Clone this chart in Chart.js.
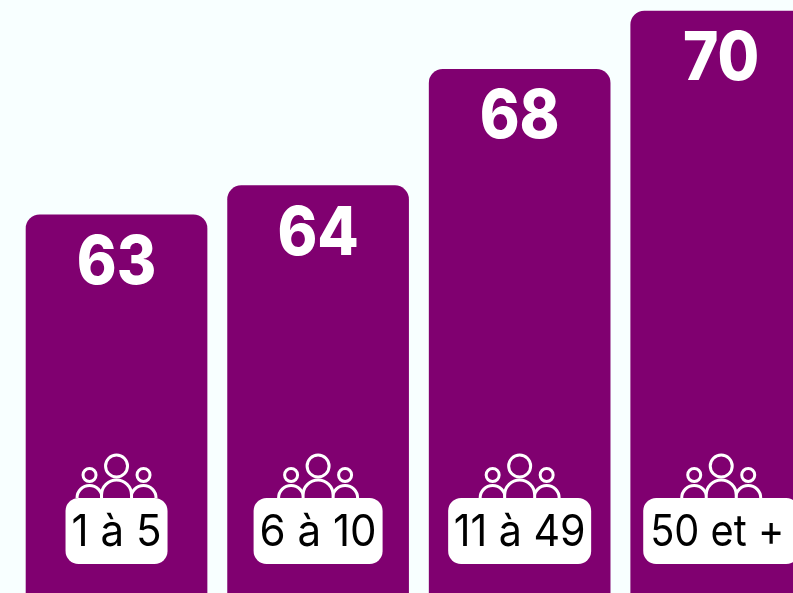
<!DOCTYPE html>
<html lang="fr">
<head>
<meta charset="utf-8">
<title>63 à 70 selon la taille de l'entreprise</title>
<script src="https://cdn.jsdelivr.net/npm/chart.js@4"></script>
<style>
  html, body { margin: 0; height: 100%; overflow: hidden; background: #f8ffff; }
  canvas { display: block; }
</style>
</head>
<body>
<canvas id="chart" width="822" height="593"></canvas>
<script>
// Daten
const categories = ['1 à 5', '6 à 10', '11 à 49', '50 et +'];
const values = [63, 64, 68, 70];

// Etiketten-Masse (Breite der weissen Flaeche, Breite des Textes)
const pillWidths = [102, 129, 143, 156];
const textWidths = [90, 117, 132, 134];

const PURPLE = '#800070';

// Personen-Icon ueber dem Etikett, relativ zur Balkenmitte
function drawPeople(ctx, cx) {
    ctx.save();
    ctx.strokeStyle = '#fff';
    ctx.lineWidth = 3;
    // Seitenfiguren
    [-27, 27].forEach(dx => {
        ctx.beginPath();
        ctx.arc(cx + dx, 475, 6.5, 0, Math.PI * 2);
        ctx.stroke();
        ctx.beginPath();
        ctx.arc(cx + dx, 498, 12.5, Math.PI, 0);
        ctx.stroke();
    });
    // Mittlere Figur, mit Fuellung damit die Seitenfiguren dahinter liegen
    ctx.beginPath();
    ctx.arc(cx, 466, 11, 0, Math.PI * 2);
    ctx.stroke();
    ctx.beginPath();
    ctx.moveTo(cx - 15, 499);
    ctx.lineTo(cx - 15, 495);
    ctx.arc(cx, 495, 15, Math.PI, 0);
    ctx.lineTo(cx + 15, 499);
    ctx.fillStyle = PURPLE;
    ctx.fill();
    ctx.stroke();
    ctx.restore();
}

const barLabels = {
    id: 'barLabels',
    afterDatasetsDraw(chart) {
        const ctx = chart.ctx;
        const meta = chart.getDatasetMeta(0);
        meta.data.forEach((bar, i) => {
            const cx = bar.x;
            // Wert oben im Balken
            ctx.save();
            ctx.fillStyle = '#fff';
            ctx.textAlign = 'center';
            ctx.textBaseline = 'alphabetic';
            ctx.font = '800 67px Inter';
            const label = String(values[i]);
            ctx.fillText(label, cx, bar.y + 69, ctx.measureText(label).width * 0.9);
            ctx.restore();

            drawPeople(ctx, cx);

            // Etikett
            ctx.save();
            const w = pillWidths[i];
            const tw = textWidths[i];
            ctx.fillStyle = '#fff';
            ctx.beginPath();
            ctx.roundRect(cx - w / 2, 498, w, 66, 13);
            ctx.fill();
            ctx.fillStyle = '#000';
            ctx.font = '400 44px Inter';
            ctx.textAlign = 'left';
            ctx.textBaseline = 'alphabetic';
            // Text sitzt links in der Flaeche, beim letzten Etikett ist rechts mehr Luft
            ctx.fillText(categories[i], cx - w / 2 + Math.min((w - tw) / 2, 7), 546, tw);
            ctx.restore();
        });
    }
};

new Chart(document.getElementById('chart'), {
    type: 'bar',
    data: {
        labels: categories,
        datasets: [{
            data: values,
            backgroundColor: PURPLE,
            barThickness: 181,
            borderRadius: { topLeft: 14, topRight: 14, bottomLeft: 0, bottomRight: 0 }
        }]
    },
    options: {
        responsive: false,
        animation: false,
        layout: { padding: { left: 15.75, right: 0, top: 0, bottom: 0 } },
        plugins: { legend: { display: false }, tooltip: { enabled: false } },
        scales: {
            x: { display: false },
            y: { display: false, min: 50, max: 70.38 }
        }
    },
    plugins: [barLabels]
});
</script>
</body>
</html>
